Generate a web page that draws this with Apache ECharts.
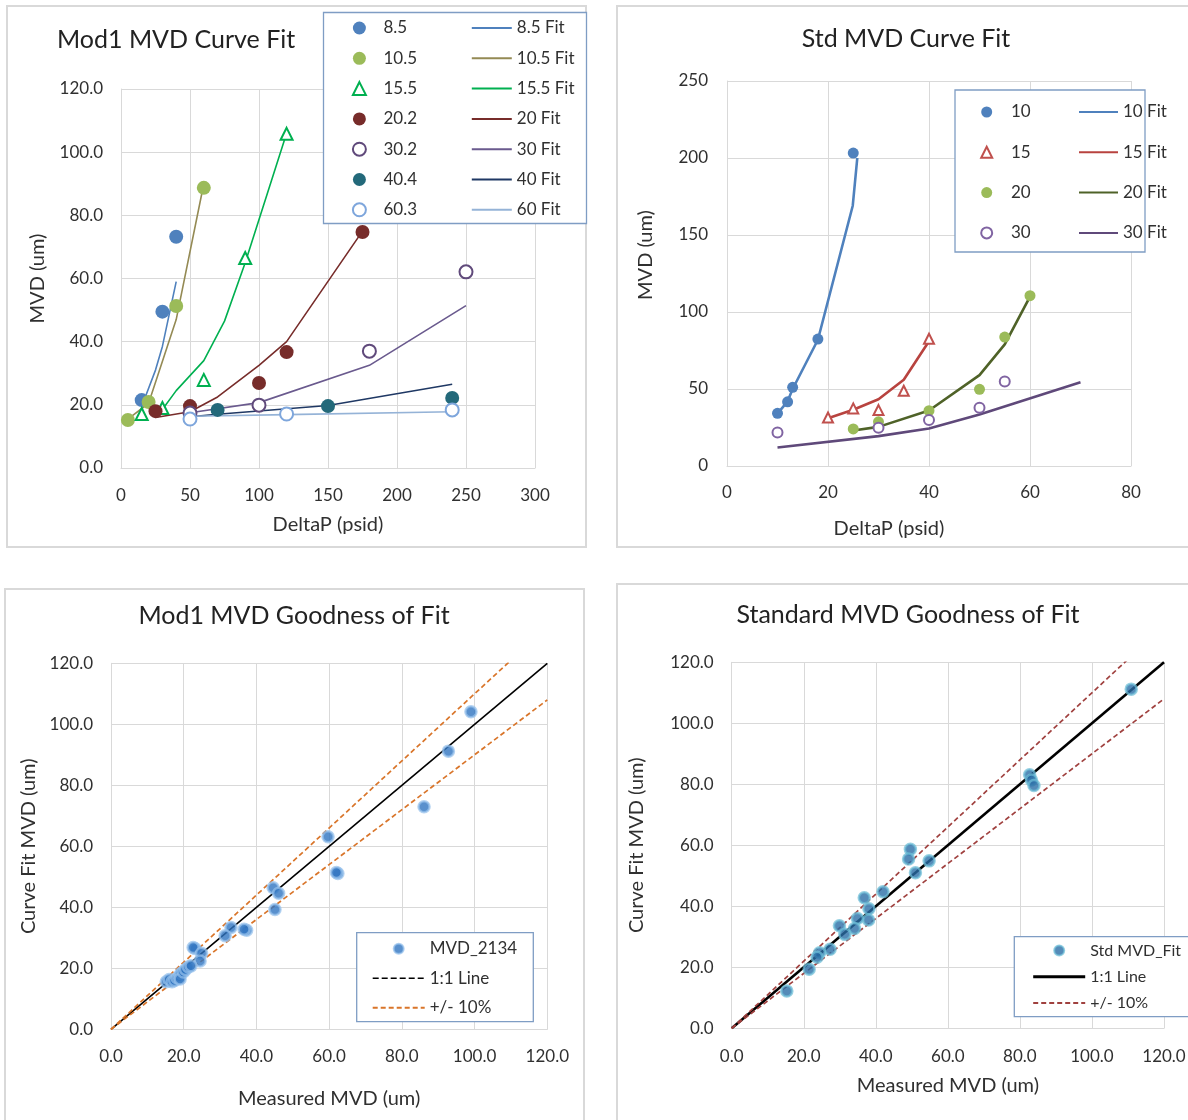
<!DOCTYPE html>
<html>
<head>
<meta charset="utf-8">
<title>MVD Curve Fits</title>
<script src="https://cdn.jsdelivr.net/npm/echarts@6/dist/echarts.min.js"></script>
<style>
  html, body { margin: 0; padding: 0; background: #fff; }
  .layer { position: absolute; left: 0; top: 0; width: 1188px; height: 1120px; }
</style>
</head>
<body>
<div id="mod1Curve" class="layer"></div>
<div id="stdCurve" class="layer"></div>
<div id="mod1Gof" class="layer"></div>
<div id="stdGof" class="layer"></div>
<script>
// ---------- Mod1 MVD curve fit: [DeltaP (psid), MVD (um)] ----------
const mod1_85     = [[15, 21.5], [30, 49.5], [40, 73.2]];
const mod1_85Fit  = [[15, 19.5], [25, 31], [30, 38.5], [40, 59]];
const mod1_105    = [[5, 15.2], [20, 20.9], [40, 51.3], [60, 88.7]];
const mod1_105Fit = [[5, 15.5], [20, 20.5], [40, 47], [60, 90]];
const mod1_155    = [[15, 17.1], [30, 19], [60, 27.9], [90, 66.5], [120, 105.8]];
const mod1_155Fit = [[30, 18.5], [40, 24.5], [60, 34], [75, 46.5], [90, 65], [120, 106]];
const mod1_202    = [[25, 18], [50, 19.6], [100, 26.9], [120, 36.7], [175, 74.7]];
const mod1_20Fit  = [[25, 16], [50, 17.8], [70, 22.5], [100, 32.5], [120, 40], [175, 75]];
const mod1_302    = [[50, 17.4], [100, 19.9], [180, 37], [250, 62.1]];
const mod1_30Fit  = [[50, 17.5], [100, 20.7], [180, 32.5], [250, 51.4]];
const mod1_404    = [[70, 18.4], [150, 19.6], [240, 22.2]];
const mod1_40Fit  = [[50, 16.2], [70, 17], [150, 19.8], [240, 26.5]];
const mod1_603    = [[50, 15.5], [120, 17.1], [240, 18.4]];
const mod1_60Fit  = [[50, 16.4], [120, 16.9], [240, 17.8]];

// ---------- Standard MVD curve fit: [DeltaP (psid), MVD (um)] ----------
const std10    = [[10, 34.2], [12, 41.7], [13, 51.1], [18, 82.4], [25, 203.2]];
const std10Fit = [[10, 34], [12, 42], [13, 50], [18, 82], [24.9, 169], [25.8, 200]];
const std15    = [[20, 31.5], [25, 37.4], [30, 36.3], [35, 48.9], [40, 82.6]];
const std15Fit = [[20, 31], [25, 36.5], [30, 43.3], [35, 56], [40, 81]];
const std20    = [[25, 24.1], [30, 28.7], [40, 35.9], [50, 49.8], [55, 83.7], [60, 110.6]];
const std20Fit = [[25, 23], [30, 25.4], [40, 36], [50, 59], [55, 79], [60, 110]];
const std30    = [[10, 21.8], [30, 24.8], [40, 29.8], [50, 37.8], [55, 54.8]];
const std30Fit = [[10, 12], [30, 19.4], [40, 24.4], [50, 33.5], [70, 54.4]];

// ---------- Goodness of fit: [measured MVD, curve-fit MVD] ----------
const mod1Pairs = [
  [99.0, 104.1], [92.8, 91.2], [86.1, 73.0], [59.7, 63.1], [62.4, 51.1], [62.0, 51.4],
  [44.6, 46.4], [46.1, 44.6], [45.1, 39.3], [33.0, 33.4], [31.4, 30.7],
  [37.3, 32.5], [36.6, 32.8], [23.1, 26.5], [22.6, 26.8], [24.9, 24.9], [24.5, 22.4],
  [15.2, 15.6], [16.0, 16.3], [16.8, 15.6], [17.5, 16.0], [18.2, 16.8], [18.8, 17.3],
  [19.2, 18.3], [19.0, 16.5], [19.9, 18.8], [20.5, 19.6], [21.3, 20.4], [22.0, 20.8]
];
const stdPairs = [
  [110.9, 111.2], [82.7, 83.1], [83.2, 81.4], [83.9, 79.6], [49.6, 58.7], [49.1, 55.5],
  [54.8, 54.9], [51.0, 51.0], [42.0, 44.8], [36.8, 42.8], [38.1, 39.2], [38.0, 35.5],
  [34.9, 36.0], [34.1, 32.7], [29.9, 33.6], [31.4, 30.8], [27.3, 25.9], [24.4, 24.8],
  [23.7, 23.3], [21.5, 19.4], [15.3, 12.2]
];
const oneToOne = [[0, 0], [120, 120]];
const plusTen  = [[0, 0], [120, 132]];
const minusTen = [[0, 0], [120, 108]];

// ---------- shared styling ----------
const FONT = 'Lato, "Open Sans", sans-serif';
const TXT = '#303030';
const GRIDC = '#d9d9d9';

function valAxis(min, max, interval, decimals, extra) {
  const ax = {
    type: 'value', min: min, max: max, interval: interval,
    axisLine: { show: true, lineStyle: { color: GRIDC, width: 1 } },
    axisTick: { show: false },
    splitLine: { show: true, lineStyle: { color: GRIDC, width: 1 } },
    axisLabel: {
      color: TXT, fontSize: 17, fontFamily: FONT, margin: 18,
      formatter: v => v.toFixed(decimals)
    },
    nameLocation: 'middle',
    nameTextStyle: { color: TXT, fontSize: 20, fontFamily: FONT }
  };
  if (extra) {
    for (const k in extra) {
      if (typeof extra[k] === 'object' && !Array.isArray(extra[k]) && ax[k]) Object.assign(ax[k], extra[k]);
      else ax[k] = extra[k];
    }
  }
  return ax;
}

function panelFrame(x, y, w, h) {
  return { type: 'rect', z: 0, silent: true,
    shape: { x: x, y: y, width: w, height: h },
    style: { fill: 'none', stroke: '#d9d9d9', lineWidth: 2 } };
}
function legendFrame(x, y, w, h) {
  return { type: 'rect', z: 5, silent: true,
    shape: { x: x, y: y, width: w, height: h },
    style: { fill: '#fff', stroke: '#7f9dc4', lineWidth: 1.3 } };
}
function titleAt(text, x, y, align) {
  return { text: text, left: x, top: y, padding: 0, textAlign: align,
    textStyle: { fontSize: 25, fontWeight: 'normal', color: '#222', fontFamily: FONT } };
}
function dots(name, data, symbol, color, size) {
  return { name: name, type: 'scatter', data: data, symbol: symbol, symbolSize: size, z: 3,
    itemStyle: { color: color, opacity: 1 } };
}
function fit(name, data, color, width) {
  return { name: name, type: 'line', data: data, symbol: 'none', z: 2,
    lineStyle: { color: color, width: width }, itemStyle: { color: color } };
}
// one column of legend entries; textPad pushes the label away from a marker icon
function legendCol(names, left, top, w, h, gap, fs, lh, textPad, lineOnly) {
  const lg = { data: names, orient: 'vertical', left: left, top: top, padding: 0,
    itemWidth: w, itemHeight: h, itemGap: gap, selectedMode: false, z: 6,
    symbolKeepAspect: true,
    textStyle: { color: TXT, fontSize: fs, fontFamily: FONT, lineHeight: lh,
      padding: [0, 0, 0, textPad || 0] } };
  if (lineOnly) lg.itemStyle = { opacity: 0 };
  return lg;
}

// ---------- Mod1 MVD Curve Fit ----------
echarts.init(document.getElementById('mod1Curve')).setOption({
  animation: false,
  title: titleAt('Mod1 MVD Curve Fit', 57, 27),
  grid: { left: 121, top: 89, width: 414, height: 379, outerBoundsMode: 'none' },
  xAxis: valAxis(0, 300, 50, 0, { name: 'DeltaP (psid)', nameGap: 47, axisLabel: { margin: 19 } }),
  yAxis: valAxis(0, 120, 20, 1, { name: 'MVD (um)', nameGap: 73 }),
  graphic: [panelFrame(7, 6, 579, 541), legendFrame(323.5, 12.5, 263, 211)],
  legend: [
    legendCol(['8.5', '10.5', '15.5', '20.2', '30.2', '40.4', '60.3'], 351.9, 18, 13, 13, 10.3, 17, 20, 12.6),
    legendCol(['8.5 Fit', '10.5 Fit', '15.5 Fit', '20 Fit', '30 Fit', '40 Fit', '60 Fit'], 470.8, 18, 40, 13, 10.3, 17, 20, 0, true)
  ],
  series: [
    fit('8.5 Fit', mod1_85Fit, '#4f81bd', 1.6),
    fit('10.5 Fit', mod1_105Fit, '#948a54', 1.6),
    fit('15.5 Fit', mod1_155Fit, '#00b050', 1.6),
    fit('20 Fit', mod1_20Fit, '#772c2a', 1.6),
    fit('30 Fit', mod1_30Fit, '#6a5a8e', 1.6),
    fit('40 Fit', mod1_40Fit, '#1f3864', 1.6),
    fit('60 Fit', mod1_60Fit, '#95b3d7', 1.6),
    dots('8.5', mod1_85, 'circle', '#4f81bd', 14),
    dots('10.5', mod1_105, 'circle', '#9bbb59', 14),
    dots('15.5', mod1_155, 'emptyTriangle', '#00b050', 12),
    dots('20.2', mod1_202, 'circle', '#772c2a', 14),
    dots('30.2', mod1_302, 'emptyCircle', '#604a7b', 13),
    dots('40.4', mod1_404, 'circle', '#23697a', 14),
    dots('60.3', mod1_603, 'emptyCircle', '#7ea6dc', 13)
  ]
});

// ---------- Std MVD Curve Fit ----------
echarts.init(document.getElementById('stdCurve')).setOption({
  animation: false,
  title: titleAt('Std MVD Curve Fit', 906, 26, 'center'),
  grid: { left: 727, top: 81, width: 404, height: 385, outerBoundsMode: 'none' },
  xAxis: valAxis(0, 80, 20, 0, { name: 'DeltaP (psid)', nameGap: 53,
    axisLabel: { margin: 18 }, nameTextStyle: { padding: [0, 80, 0, 0] } }),
  yAxis: valAxis(0, 250, 50, 0, { name: 'MVD (um)', nameGap: 71,
    axisLabel: { margin: 19 }, nameTextStyle: { padding: [0, 0, 0, 37] } }),
  graphic: [panelFrame(617, 6, 600, 541), legendFrame(955, 90, 190, 162)],
  legend: [
    legendCol(['10', '15', '20', '30'], 980.2, 102, 11, 11, 20.3, 17, 20, 13.8),
    legendCol(['10 Fit', '15 Fit', '20 Fit', '30 Fit'], 1078, 102, 39, 11, 20.3, 17, 20, 0, true)
  ],
  series: [
    fit('10 Fit', std10Fit, '#4f81bd', 2.6),
    fit('15 Fit', std15Fit, '#b8433f', 2.6),
    fit('20 Fit', std20Fit, '#4f6228', 2.6),
    fit('30 Fit', std30Fit, '#5f497a', 2.6),
    dots('10', std10, 'circle', '#4f81bd', 11),
    dots('15', std15, 'emptyTriangle', '#c0504d', 10),
    dots('20', std20, 'circle', '#9bbb59', 11),
    dots('30', std30, 'emptyCircle', '#8064a2', 10)
  ]
});

// ---------- goodness-of-fit panels ----------
function gofOption(cfg) {
  const hidden = { opacity: 0 };
  return {
    animation: false,
    title: titleAt(cfg.title, cfg.titleX, cfg.titleY, 'center'),
    grid: Object.assign({ outerBoundsMode: 'none' }, cfg.grid),
    xAxis: valAxis(0, 120, 20, 1, { name: 'Measured MVD (um)', nameGap: cfg.xGap, axisLabel: { margin: cfg.xMargin } }),
    yAxis: valAxis(0, 120, 20, 1, { name: 'Curve Fit MVD (um)', nameGap: cfg.yGap }),
    graphic: [panelFrame.apply(null, cfg.frame), legendFrame.apply(null, cfg.legendBox)],
    legend: legendCol([
        cfg.pointName,
        { name: '1:1 Line', lineStyle: cfg.legendLine, itemStyle: hidden },
        { name: '+/- 10%', itemStyle: hidden }
      ], cfg.legendLeft, cfg.legendTop, 52, 10, cfg.legendGap, cfg.legendFont, cfg.legendLh, 0),
    series: [
      { name: '1:1 Line', type: 'line', data: oneToOne, symbol: 'none', z: 2,
        lineStyle: { color: '#000', width: cfg.unityWidth }, itemStyle: { color: '#000' } },
      { name: '+/- 10%', type: 'line', data: plusTen, symbol: 'none', z: 2,
        lineStyle: { color: cfg.bandColor, width: 1.7, type: [5, 3] }, itemStyle: { color: cfg.bandColor } },
      { name: '+/- 10%', type: 'line', data: minusTen, symbol: 'none', z: 2,
        lineStyle: { color: cfg.bandColor, width: 1.7, type: [5, 3] }, itemStyle: { color: cfg.bandColor } },
      { name: cfg.pointName, type: 'scatter', data: cfg.data, symbol: 'circle', symbolSize: 11, z: 3,
        itemStyle: { color: cfg.dotFill, borderColor: cfg.dotHalo, borderWidth: 2.5 } }
    ]
  };
}

echarts.init(document.getElementById('mod1Gof')).setOption(gofOption({
  title: 'Mod1 MVD Goodness of Fit', titleX: 294, titleY: 603,
  grid: { left: 111, top: 663.3, width: 436.3, height: 366 },
  xGap: 59, yGap: 72, xMargin: 19,
  frame: [5, 589, 579, 560], legendBox: [356.7, 932.7, 176.6, 89],
  pointName: 'MVD_2134', legendLine: { type: 'dashed', width: 1.5 },
  legendLeft: 371.7, legendTop: 938.8, legendGap: 9.5, legendFont: 17, legendLh: 20,
  unityWidth: 1.6, bandColor: '#d9752a',
  dotFill: '#2f74c0', dotHalo: 'rgba(150,192,235,0.9)', data: mod1Pairs
}));

echarts.init(document.getElementById('stdGof')).setOption(gofOption({
  title: 'Standard MVD Goodness of Fit', titleX: 908, titleY: 602,
  grid: { left: 731.7, top: 662.3, width: 432.3, height: 366 },
  xGap: 47, yGap: 85, xMargin: 20,
  frame: [617, 584, 600, 560], legendBox: [1014.3, 936.7, 200, 80],
  pointName: 'Std MVD_Fit', legendLine: { type: 'solid', width: 3 },
  legendLeft: 1031.7, legendTop: 941.5, legendGap: 8.2, legendFont: 16, legendLh: 18,
  unityWidth: 2.6, bandColor: '#a0413f',
  dotFill: '#2a6ea6', dotHalo: 'rgba(110,190,215,0.9)', data: stdPairs
}));
</script>
</body>
</html>
